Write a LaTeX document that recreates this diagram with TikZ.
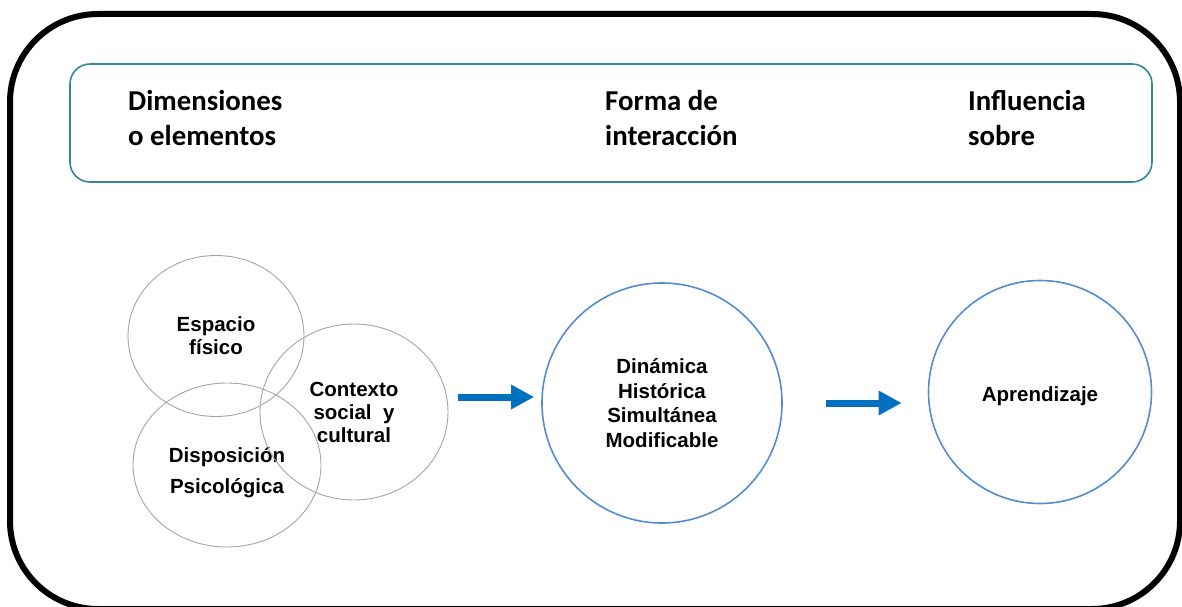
\documentclass[tikz,border=0pt]{standalone}
\usepackage{fontspec}
\setmainfont{Liberation Sans}
\newfontfamily\calibri{Carlito}
\usetikzlibrary{shapes.geometric,arrows.meta}
\definecolor{grisc}{RGB}{165,165,165}
\definecolor{azulc}{RGB}{84,140,212}
\definecolor{azulf}{RGB}{0,112,192}
\definecolor{verdeazul}{RGB}{52,133,158}
\begin{document}
\begin{tikzpicture} [
   x=1pt, y=-1pt,
   dim/.style={ellipse, draw=grisc, line width=0.9pt, inner sep=0pt, align=center,
      font=\bfseries\fontsize{20.5}{23}\selectfont},
   fase/.style={circle, draw=azulc, line width=1.6pt, inner sep=0pt, align=center,
      font=\bfseries\fontsize{20.5}{24.7}\selectfont},
   titulo/.style={anchor=west, inner sep=0pt, align=left,
      font=\calibri\bfseries\fontsize{28.8}{35}\selectfont},
   flecha/.style={draw=azulf, line width=7pt, -{Triangle[length=23pt,width=23pt]}}
]
   \useasboundingbox (0,0) rectangle (1182,607);
   \draw [line width=6pt, rounded corners=88pt] (10,14) rectangle (1180,609);
   % cabecera
   \node (cab) [draw=verdeazul, line width=1.6pt, rounded corners=20pt,
      minimum width=1082pt, minimum height=118pt] at (611,123) {};
   \node (dimt) [titulo] at (128,118) {Dimensiones\\o elementos};
   \node (format) [titulo] at (605,118) {Forma de\\interacción};
   \node (inflt) [titulo] at (968,118) {Influencia\\sobre};
   % dimensiones
   \node (esp) [dim, minimum width=176pt, minimum height=161pt] at (216,336) {Espacio\\físico};
   \node (dis) [dim, minimum width=188pt, minimum height=164pt,
      label={[inner sep=0pt, align=center, yshift=-8pt, font=\bfseries\fontsize{20.5}{31}\selectfont]center:Disposición\\Psicológica}]
      at (227,465) {};
   \node (ctx) [dim, minimum width=188pt, minimum height=176pt] at (354,412) {Contexto\\social\ \ y\\cultural};
   % forma e influencia
   \node (mid) [fase, minimum size=240pt] at (662,403) {Dinámica\\Histórica\\Simultánea\\Modificable};
   \node (apr) [fase, minimum width=223pt,
      label={[inner sep=0pt, yshift=-4pt, font=\bfseries\fontsize{20.5}{24.7}\selectfont]center:Aprendizaje}]
      at (1040,392) {};
   \draw [flecha, shorten <=10pt, shorten >=7pt] ([yshift=6pt]mid.west -| ctx.east) -- ([yshift=6pt]mid.west);
   \draw [flecha, shorten <=43pt, shorten >=26pt] (mid.east) -- (mid.east -| apr.west);
\end{tikzpicture}
\end{document}
